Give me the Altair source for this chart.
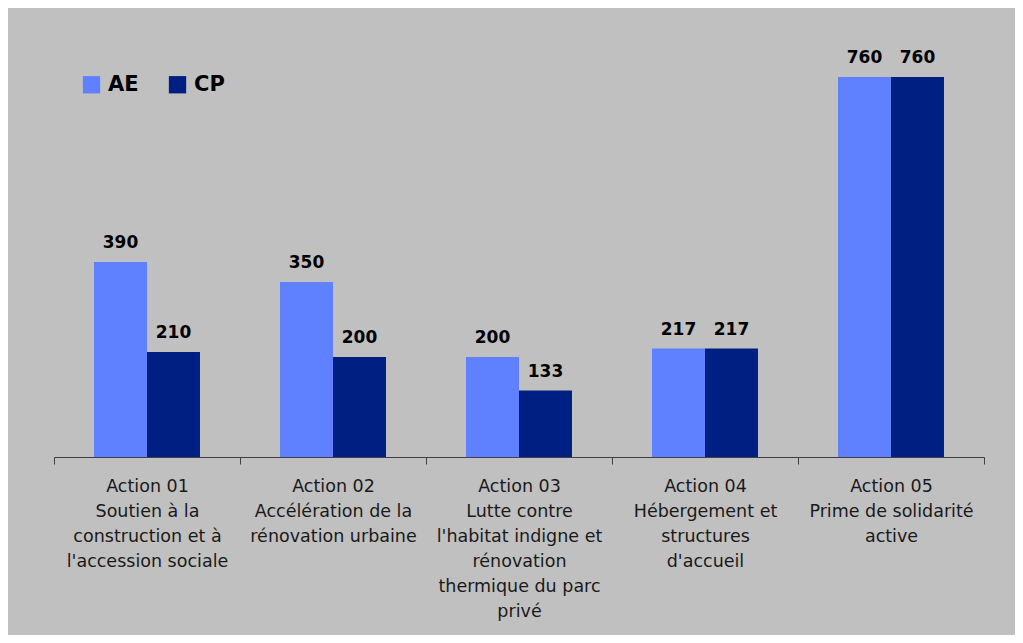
import altair as alt
import pandas as pd

categories = [
    "Action 01|Soutien à la|construction et à|l'accession sociale",
    "Action 02|Accélération de la|rénovation urbaine",
    "Action 03|Lutte contre|l'habitat indigne et|rénovation|thermique du parc|privé",
    "Action 04|Hébergement et|structures|d'accueil",
    "Action 05|Prime de solidarité|active",
]
series = ["AE", "CP"]
ae_values = [390, 350, 200, 217, 760]
cp_values = [210, 200, 133, 217, 760]
colors = ["#5f80ff", "#001f82"]

rows = []
for c, a, p in zip(categories, ae_values, cp_values):
    rows.append({"cat": c, "series": "AE", "value": a})
    rows.append({"cat": c, "series": "CP", "value": p})
df = pd.DataFrame(rows)

FONT = "DejaVu Sans"

x = alt.X(
    "cat:N",
    sort=categories,
    scale=alt.Scale(paddingInner=0, paddingOuter=0),
    axis=alt.Axis(
        title=None,
        labelExpr="split(datum.label, '|')",
        labelAngle=0,
        labelFont=FONT,
        labelFontSize=17.5,
        labelColor="#1a1a1a",
        labelLineHeight=25,
        labelPadding=13,
        labelBaseline="top",
        tickBand="extent",
        tickSize=7,
        tickColor="#404040",
        domainColor="#404040",
        labelLimit=300,
        zindex=1,
    ),
)
y = alt.Y("value:Q", scale=alt.Scale(domain=[0, 760], nice=False), axis=None)
xo = alt.XOffset("series:N", sort=series, scale=alt.Scale(paddingOuter=0.755, paddingInner=0))

bars = alt.Chart(df).mark_bar().encode(
    x=x,
    xOffset=xo,
    y=y,
    color=alt.Color(
        "series:N",
        sort=series,
        scale=alt.Scale(domain=series, range=colors),
        legend=alt.Legend(
            title=None,
            orient="none",
            legendX=27,
            legendY=-3,
            direction="horizontal",
            symbolType="square",
            symbolSize=300,
            symbolStrokeWidth=0,
            labelFont=FONT,
            labelFontSize=21,
            labelFontWeight="bold",
            labelColor="#000000",
            columnPadding=28,
            labelOffset=6,
        ),
    ),
)

labels = alt.Chart(df).mark_text(
    font=FONT, fontSize=17, fontWeight="bold", color="#000000", baseline="bottom", dy=-10
).encode(x=x, xOffset=xo, y=y, text=alt.Text("value:Q"))

chart = (
    alt.layer(bars, labels)
    .properties(
        width=930,
        height=380,
        autosize=alt.AutoSizeParams(type="none"),
        padding={"left": 46, "top": 69, "right": 31, "bottom": 178},
        background="#c0c0c0",
    )
    .configure_view(stroke=None)
)

chart.save("out.html", embed_options={"renderer": "svg", "actions": False})
